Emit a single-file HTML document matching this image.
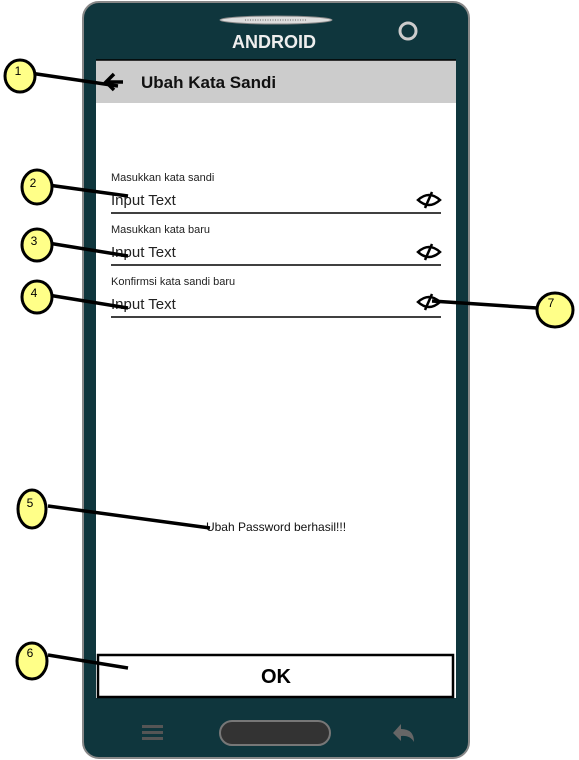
<!DOCTYPE html>
<html><head><meta charset="utf-8"><style>
html,body{margin:0;padding:0;background:#fff;width:579px;height:760px;overflow:hidden}
svg{display:block;font-family:"Liberation Sans",sans-serif}
</style></head><body>
<svg width="579" height="760" viewBox="0 0 579 760" xmlns="http://www.w3.org/2000/svg">
<rect x="83" y="2" width="386" height="756" rx="16" fill="#0f363d" stroke="#888" stroke-width="2"/>
<ellipse cx="276" cy="20" rx="56" ry="4" fill="#ddd" stroke="#888"/>
<line x1="245" y1="20" x2="307" y2="20" stroke="#666" stroke-dasharray="1,1.5"/>
<text x="274" y="48" font-size="18" font-weight="bold" fill="#eee" text-anchor="middle">ANDROID</text>
<circle cx="408" cy="31" r="8" fill="none" stroke="#ccc" stroke-width="3"/>
<rect x="96" y="60" width="360" height="638" fill="#fff"/>
<rect x="96" y="60" width="360" height="43" fill="#cccccc"/>
<line x1="96" y1="60" x2="456" y2="60" stroke="#000" stroke-width="1.5"/>
<text x="141" y="88" font-size="17" font-weight="bold" fill="#111">Ubah Kata Sandi</text>
<path d="M123 82 H106 M114 74 L106 82 L114 90" stroke="#000" stroke-width="3.5" fill="none"/>
<g font-size="11" fill="#222">
<text x="111" y="181">Masukkan kata sandi</text>
<text x="111" y="233">Masukkan kata  baru</text>
<text x="111" y="285">Konfirmsi kata sandi baru</text>
</g>
<g font-size="15" fill="#222">
<text x="111" y="205">Input Text</text>
<text x="111" y="257">Input Text</text>
<text x="111" y="309">Input Text</text>
</g>
<g stroke="#000" stroke-width="1.5">
<line x1="111" y1="213" x2="441" y2="213"/>
<line x1="111" y1="265" x2="441" y2="265"/>
<line x1="111" y1="317" x2="441" y2="317"/>
</g>
<g fill="none" stroke="#000" stroke-width="2.5">
<path d="M418 200 Q429 190 440 200 Q429 210 418 200Z"/><line x1="425" y1="208" x2="432" y2="192"/>
<path d="M418 252 Q429 242 440 252 Q429 262 418 252Z"/><line x1="425" y1="260" x2="432" y2="244"/>
<path d="M418 302 Q429 292 440 302 Q429 312 418 302Z"/><line x1="425" y1="310" x2="432" y2="294"/>
</g>
<text x="276" y="531" font-size="12" fill="#111" text-anchor="middle">Ubah Password berhasil!!!</text>
<rect x="98" y="655" width="355" height="42" fill="#fff" stroke="#000" stroke-width="2.5"/>
<text x="276" y="683" font-size="20" font-weight="bold" text-anchor="middle">OK</text>
<g fill="#555"><rect x="142" y="725" width="21" height="3"/><rect x="142" y="731" width="21" height="3"/><rect x="142" y="737" width="21" height="3"/></g>
<rect x="220" y="721" width="110" height="24" rx="12" fill="#333" stroke="#777" stroke-width="2"/>
<path d="M393 733 L401 724 L401 729 Q414 729 414 742 Q410 735 401 736 L401 741Z" fill="#666"/>
<g stroke="#000" stroke-width="3.5">
<line x1="30" y1="73" x2="118" y2="86"/>
<line x1="48" y1="185" x2="128" y2="196"/>
<line x1="48" y1="243" x2="128" y2="256"/>
<line x1="48" y1="295" x2="128" y2="308"/>
<line x1="48" y1="506" x2="210" y2="528"/>
<line x1="48" y1="655" x2="128" y2="668"/>
<line x1="432" y1="301" x2="537" y2="308"/>
</g>
<g fill="#ffff88" stroke="#000" stroke-width="3">
<ellipse cx="20" cy="76" rx="15" ry="16"/>
<ellipse cx="37" cy="187" rx="15" ry="17"/>
<ellipse cx="37" cy="245" rx="15" ry="16"/>
<ellipse cx="37" cy="297" rx="15" ry="16"/>
<ellipse cx="32" cy="509" rx="14" ry="19"/>
<ellipse cx="32" cy="661" rx="15" ry="18"/>
<ellipse cx="555" cy="310" rx="18" ry="17"/>
</g>
<g font-size="12" fill="#000" text-anchor="middle">
<text x="18" y="75">1</text><text x="33" y="187">2</text><text x="34" y="245">3</text>
<text x="34" y="297">4</text><text x="30" y="507">5</text><text x="30" y="657">6</text><text x="551" y="307">7</text>
</g>
</svg>
</body></html>
